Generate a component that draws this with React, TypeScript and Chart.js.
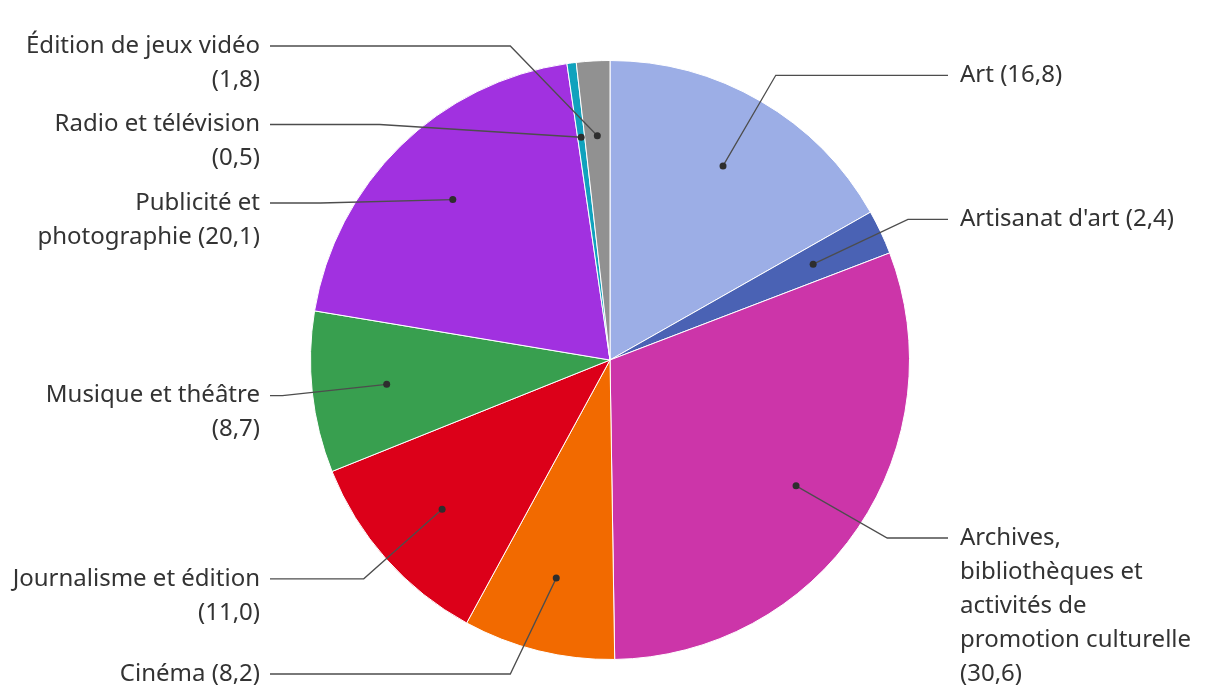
import React, { useEffect, useRef } from "react";
import { Chart, registerables } from "chart.js";

Chart.register(...registerables);

const categories: string[][] = [
  ["Art (16,8)"],
  ["Artisanat d'art (2,4)"],
  ["Archives,", "bibliothèques et", "activités de", "promotion culturelle", "(30,6)"],
  ["Cinéma (8,2)"],
  ["Journalisme et édition", "(11,0)"],
  ["Musique et théâtre", "(8,7)"],
  ["Publicité et", "photographie (20,1)"],
  ["Radio et télévision", "(0,5)"],
  ["Édition de jeux vidéo", "(1,8)"],
];
const values: number[] = [16.8, 2.4, 30.6, 8.2, 11.0, 8.7, 20.1, 0.5, 1.8];
const colors: string[] = [
  "#9caee6",
  "#4a62b4",
  "#cc35a9",
  "#f26a00",
  "#dc0019",
  "#389f4f",
  "#a131e0",
  "#10a2bd",
  "#919191",
];

const LINE_H = 34;
const GAP = 10.5;
const FONT = '24px "Noto Sans", sans-serif';

const leaderPlugin = {
  id: "leaderLabels",
  afterDraw(chart: any) {
    const ctx = chart.ctx as CanvasRenderingContext2D;
    const meta = chart.getDatasetMeta(0);
    const W = chart.width;
    const topBound = 46;
    const bottomBound = 674;
    type Item = { idx: number; mid: number; cx: number; cy: number; r: number; ideal: number; y: number; n: number; right: boolean };
    const items: Item[] = [];
    meta.data.forEach((arc: any, i: number) => {
      const p = arc.getProps(["x", "y", "startAngle", "endAngle", "outerRadius"], true);
      const mid = (p.startAngle + p.endAngle) / 2;
      const R2 = p.outerRadius * 1.1;
      const ideal = p.y + R2 * Math.sin(mid);
      items.push({
        idx: i,
        mid,
        cx: p.x,
        cy: p.y,
        r: p.outerRadius,
        ideal,
        y: ideal,
        n: categories[i].length,
        right: Math.cos(mid) >= 0,
      });
    });
    const layout = (list: Item[]) => {
      list.sort((a, b) => a.ideal - b.ideal);
      for (let k = 0; k < list.length; k++) {
        const it = list[k];
        let y = Math.max(it.ideal, topBound);
        if (k > 0) {
          const prev = list[k - 1];
          y = Math.max(y, prev.y + prev.n * LINE_H + GAP);
        }
        it.y = y;
      }
      for (let k = list.length - 1; k >= 0; k--) {
        const it = list[k];
        let maxY = bottomBound - (it.n - 1) * LINE_H;
        if (k < list.length - 1) {
          const next = list[k + 1];
          maxY = Math.min(maxY, next.y - it.n * LINE_H - GAP);
        }
        if (it.y > maxY) it.y = maxY;
      }
    };
    layout(items.filter((it) => it.right));
    layout(items.filter((it) => !it.right));

    ctx.save();
    ctx.font = FONT;
    ctx.textBaseline = "middle";
    items.forEach((it) => {
      const R2 = it.r * 1.1;
      const dotX = it.cx + it.r * 0.75 * Math.cos(it.mid);
      const dotY = it.cy + it.r * 0.75 * Math.sin(it.mid);
      const dy = it.y - it.cy;
      const dx = Math.sqrt(Math.max(R2 * R2 - dy * dy, 0));
      const elbowX = it.right ? it.cx + dx : it.cx - dx;
      const lineEnd = it.right ? W - 272 : 270;
      ctx.strokeStyle = "#4d4d4d";
      ctx.lineWidth = 1.3;
      ctx.beginPath();
      ctx.moveTo(dotX, dotY);
      ctx.lineTo(elbowX, it.y);
      ctx.lineTo(lineEnd, it.y);
      ctx.stroke();
      ctx.fillStyle = "#2e2e2e";
      ctx.beginPath();
      ctx.arc(dotX, dotY, 3.5, 0, Math.PI * 2);
      ctx.fill();
      ctx.fillStyle = "#333333";
      ctx.textAlign = it.right ? "left" : "right";
      const tx = it.right ? W - 260 : 260;
      categories[it.idx].forEach((line, j) => {
        ctx.fillText(line, tx, it.y + j * LINE_H);
      });
    });
    ctx.restore();
  },
};

export default function App() {
  const ref = useRef<HTMLCanvasElement | null>(null);
  useEffect(() => {
    if (!ref.current) return;
    const chart = new Chart(ref.current, {
      type: "pie",
      data: {
        labels: categories.map((c) => c.join(" ")),
        datasets: [
          {
            data: values,
            backgroundColor: colors,
            borderColor: "#ffffff",
            borderWidth: 1,
          },
        ],
      },
      options: {
        animation: false,
        responsive: false,
        layout: { padding: { top: 60, bottom: 40, left: 310, right: 310 } },
        plugins: { legend: { display: false }, tooltip: { enabled: false } },
      },
      plugins: [leaderPlugin],
    });
    return () => chart.destroy();
  }, []);
  return (
    <div style={{ position: "absolute", left: 0, top: 0, width: 1220, height: 700, background: "#fff" }}>
      <canvas ref={ref} width={1220} height={700} style={{ width: 1220, height: 700 }} />
    </div>
  );
}
